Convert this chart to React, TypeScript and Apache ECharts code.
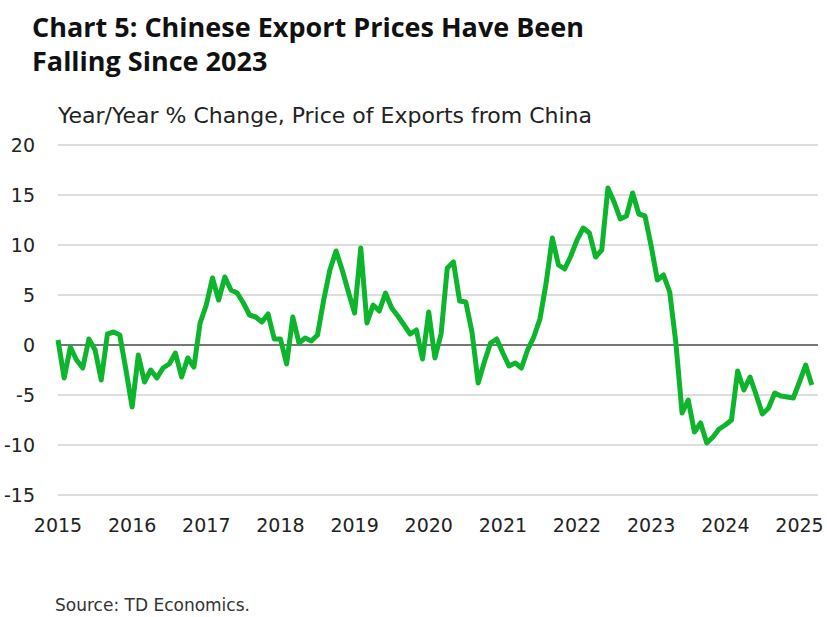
import { useEffect, useRef } from "react";
import * as echarts from "echarts";

// monthly, Jan 2015 .. Mar 2025
const startYear = 2015;
const yearTicks = [2015, 2016, 2017, 2018, 2019, 2020, 2021, 2022, 2023, 2024, 2025];
const yoyChange = [
  0.5, -3.3, -0.2, -1.5, -2.3, 0.6, -0.5, -3.5, 1.1, 1.3, 1.0, -2.5,
  -6.2, -1.0, -3.7, -2.5, -3.3, -2.3, -1.9, -0.8, -3.2, -1.3, -2.2, 2.2,
  4.0, 6.7, 4.5, 6.8, 5.5, 5.2, 4.2, 3.0, 2.8, 2.3, 3.1, 0.6,
  0.6, -1.9, 2.8, 0.2, 0.7, 0.4, 1.0, 4.5, 7.5, 9.4, 7.5, 5.3,
  3.2, 9.7, 2.2, 4.0, 3.4, 5.2, 3.7, 2.9, 2.0, 1.1, 1.5, -1.4,
  3.3, -1.3, 1.1, 7.7, 8.3, 4.4, 4.3, 1.3, -3.8, -1.7, 0.2, 0.6,
  -0.8, -2.1, -1.8, -2.3, -0.5, 0.8, 2.6, 6.2, 10.7, 8.0, 7.6, 8.9,
  10.5, 11.7, 11.2, 8.8, 9.5, 15.7, 14.3, 12.6, 12.9, 15.2, 13.1, 12.9,
  9.9, 6.5, 7.0, 5.3, 0.2, -6.8, -5.5, -8.7, -7.8, -9.8, -9.2, -8.4,
  -8.0, -7.5, -2.6, -4.5, -3.2, -5.0, -6.9, -6.3, -4.8, -5.1, -5.2, -5.3,
  -3.7, -2.0, -4.0,
];
const yTicks = [-15, -10, -5, 0, 5, 10, 15, 20];

const font = "'DejaVu Sans', sans-serif";

export default function App() {
  const chartRef = useRef<HTMLDivElement>(null);

  useEffect(() => {
    if (!chartRef.current) return;
    const chart = echarts.init(chartRef.current, undefined, { renderer: "svg" });

    const option: echarts.EChartsOption = {
      animation: false,
      backgroundColor: "#ffffff",
      title: [
        {
          text: "Chart 5: Chinese Export Prices Have Been\nFalling Since 2023",
          left: 32,
          top: 9,
          padding: 0,
          textStyle: {
            fontFamily: "'Open Sans', sans-serif",
            fontSize: 27,
            fontWeight: "bold",
            color: "#111111",
            lineHeight: 34,
          },
        },
        {
          text: "Year/Year % Change, Price of Exports from China",
          left: 58,
          top: 104,
          padding: 0,
          textStyle: {
            fontFamily: font,
            fontSize: 22,
            fontWeight: "normal",
            color: "#222222",
          },
        },
        {
          text: "Source: TD Economics.",
          left: 55,
          top: 596,
          padding: 0,
          textStyle: {
            fontFamily: font,
            fontSize: 17,
            fontWeight: "normal",
            color: "#333333",
          },
        },
      ],
      grid: { left: 58, right: 9, top: 145, bottom: 122 },
      xAxis: {
        type: "value",
        min: 0,
        max: yoyChange.length,
        interval: 12,
        axisLine: { show: false },
        axisTick: { show: false },
        splitLine: { show: false },
        axisLabel: {
          margin: 20,
          fontFamily: font,
          fontSize: 19,
          color: "#222222",
          formatter: (v: number) => {
            if (v % 12 !== 0) return "";
            const y = startYear + v / 12;
            return yearTicks.includes(y) ? String(y) : "";
          },
        },
      },
      yAxis: {
        type: "value",
        min: yTicks[0],
        max: yTicks[yTicks.length - 1],
        interval: 5,
        axisLine: { show: false },
        axisTick: { show: false },
        splitLine: { lineStyle: { color: "#dddddd", width: 2 } },
        axisLabel: {
          margin: 23,
          fontFamily: font,
          fontSize: 19,
          color: "#222222",
        },
      },
      series: [
        {
          type: "line",
          data: yoyChange.map((v, i) => [i, v]),
          symbol: "none",
          lineStyle: { color: "#0cb52b", width: 5, join: "round" },
          markLine: {
            silent: true,
            symbol: "none",
            label: { show: false },
            lineStyle: { color: "#555555", width: 1.5, type: "solid" },
            data: [{ yAxis: 0 }],
            z: 1,
          },
          z: 3,
        },
      ],
    };

    chart.setOption(option);
    return () => chart.dispose();
  }, []);

  return <div ref={chartRef} style={{ width: 827, height: 617, position: "absolute", left: 0, top: 0 }} />;
}
